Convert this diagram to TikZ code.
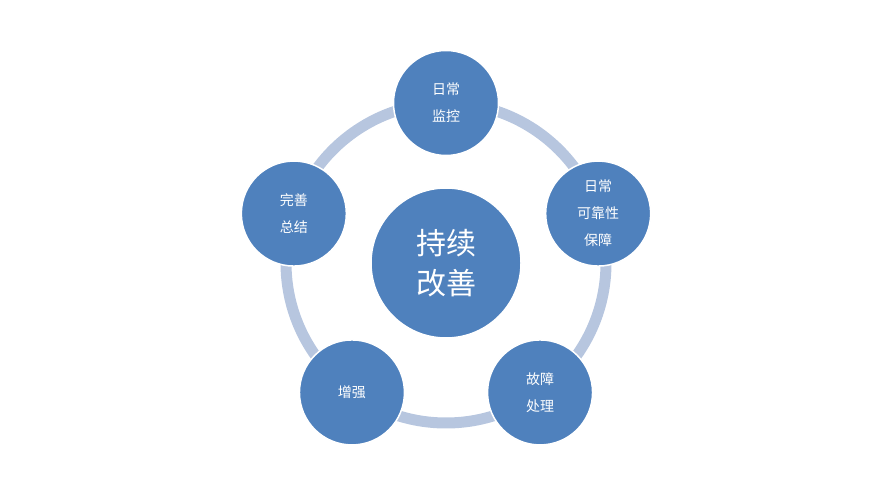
\documentclass[tikz,border=0pt]{standalone}
\usepackage{fontspec}
\newfontfamily\cjk{Noto Sans CJK SC}
\usetikzlibrary{positioning}
\definecolor{nodeblue}{HTML}{4F81BD}
\definecolor{ringblue}{HTML}{B7C6DF}
\tikzset{
        treenode/.style={align=center,inner sep=0pt,font=\cjk},
        % Center node
        node_hub/.style={treenode, circle, white, draw=white, line width=1.5pt, fill=nodeblue, minimum size=150pt, font=\cjk\fontsize{30}{40}\selectfont},
        % Outer nodes
        node_step/.style={treenode, circle, white, draw=white, line width=1.5pt, fill=nodeblue, minimum size=105pt, font=\cjk\fontsize{14}{27}\selectfont},
        % Ring behind the nodes
        node_ring/.style={circle, draw=ringblue, line width=11pt, minimum size=320pt}
}
\begin{document}
\begin{tikzpicture}[x=1pt, y=1pt]
    \useasboundingbox (0,0) rectangle (893,500);
    \coordinate (c) at (446,237);
    \node[node_ring] (loop) at (c) {};
    \node[node_hub] (improve) at (c) {持续\\改善};
    \node[node_step] (monitor) at ([shift={(90:160)}]c) {日常\\监控};
    \node[node_step] (reliab) at ([shift={(18:160)}]c) {日常\\可靠性\\保障};
    \node[node_step] (fault) at ([shift={(-54:160)}]c) {故障\\处理};
    \node[node_step] (enhance) at ([shift={(-126:160)}]c) {增强};
    \node[node_step] (summary) at ([shift={(162:160)}]c) {完善\\总结};
\end{tikzpicture}
\end{document}
